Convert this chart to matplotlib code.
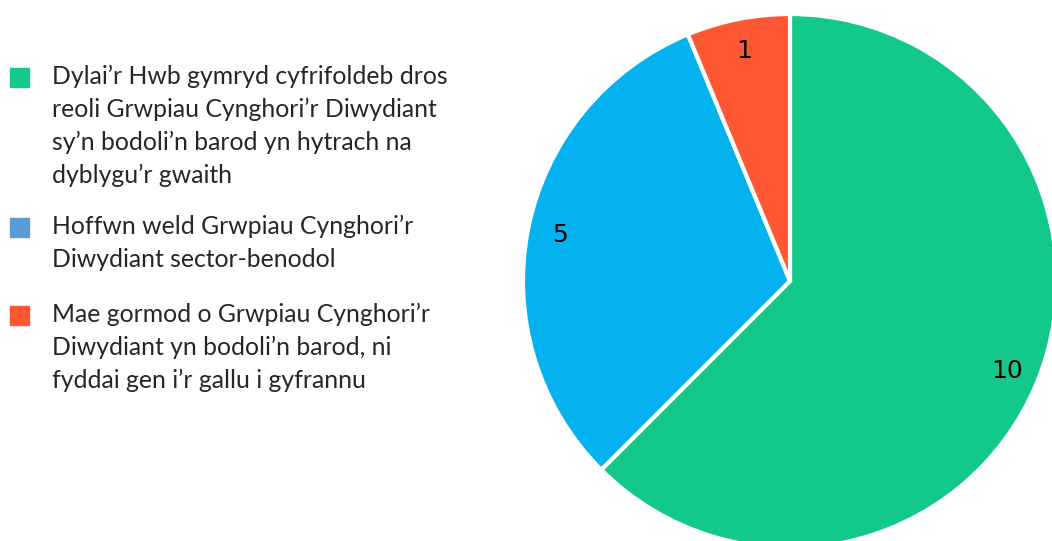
import matplotlib
matplotlib.use("Agg")
from matplotlib import pyplot as plt
from matplotlib.patches import Rectangle

# data
labels = [
    "Dylai’r Hwb gymryd cyfrifoldeb dros\nreoli Grwpiau Cynghori’r Diwydiant\nsy’n bodoli’n barod yn hytrach na\ndyblygu’r gwaith",
    "Hoffwn weld Grwpiau Cynghori’r\nDiwydiant sector-benodol",
    "Mae gormod o Grwpiau Cynghori’r\nDiwydiant yn bodoli’n barod, ni\nfyddai gen i’r gallu i gyfrannu",
]
values = [10, 5, 1]
pie_colors = ["#13C98A", "#03B2EF", "#FF5733"]
legend_colors = ["#13C98A", "#5B9BD5", "#FF5733"]

W, H = 1052, 541
fig = plt.figure(figsize=(W / 100, H / 100), dpi=100)

# pie axes, centre ~ (790, 281) px, radius ~267 px
r = 267
cx, cy = 790, 281
ax = fig.add_axes([(cx - r) / W, (H - cy - r) / H, 2 * r / W, 2 * r / H])
wedges, texts = ax.pie(values, colors=pie_colors, startangle=90, counterclock=False,
                       labels=[str(v) for v in values], labeldistance=0.88,
                       wedgeprops=dict(edgecolor="white", linewidth=3),
                       textprops=dict(fontsize=18, color="black"))
for t in texts:
    t.set_ha("center")
    t.set_va("center")
ax.set_xlim(-1, 1)
ax.set_ylim(-1, 1)
ax.set_aspect("equal")
ax.axis("off")

# legend drawn by hand: square aligned with first text line
tops = [77, 227, 315]
for lab, col, y in zip(labels, legend_colors, tops):
    fig.patches.append(Rectangle((10 / W, (H - y - 9.5) / H), 19 / W, 19 / H,
                                 transform=fig.transFigure, color=col))
    fig.text(52 / W, (H - y + 12) / H, lab, ha="left", va="top",
             fontsize=17.8, family="Lato", color="#262626", linespacing=1.49)

fig.savefig("out.png", dpi=100)
